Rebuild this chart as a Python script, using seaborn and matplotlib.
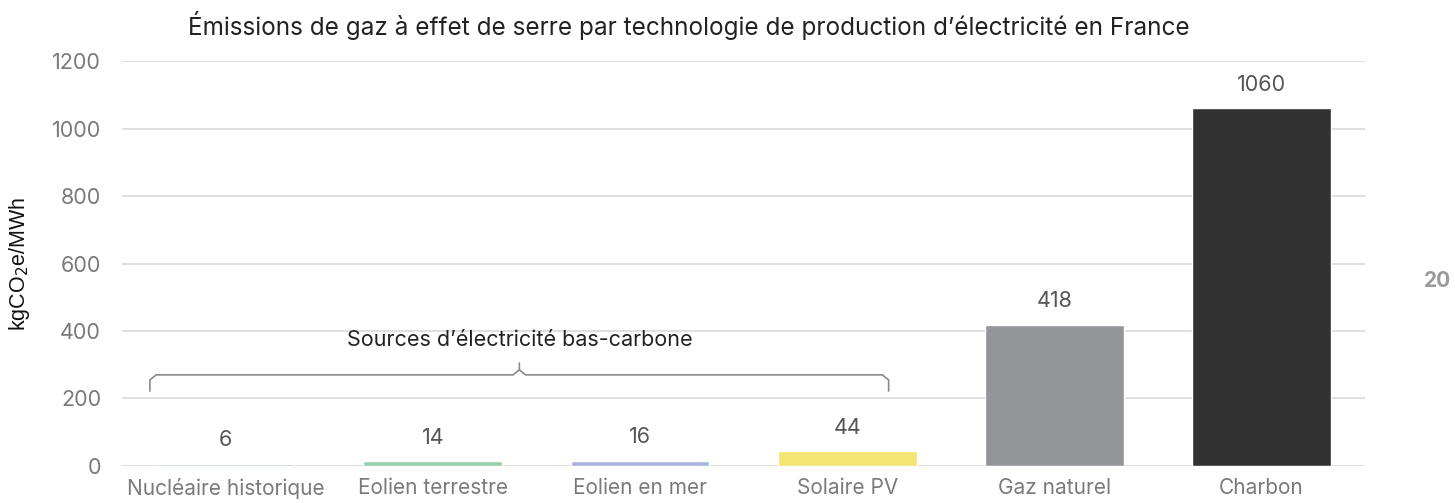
import numpy as np
import pandas as pd
import seaborn as sns
import matplotlib.pyplot as plt

# Data
technologies = ['Nucléaire historique', 'Eolien terrestre', 'Eolien en mer',
                'Solaire PV', 'Gaz naturel', 'Charbon']
emissions = [6, 14, 16, 44, 418, 1060]
bar_colors = ['#b4c8dc', '#98cfa9', '#a9b2dc', '#f4e471', '#939598', '#323232']

df = pd.DataFrame({'tech': technologies, 'val': emissions})

sns.set_style('white')
plt.rcParams['font.family'] = ['Inter', 'DejaVu Sans']

fig = plt.figure(figsize=(14.55, 5.03), dpi=100)
ax = fig.add_axes([0.0838, 0.0736, 0.8545, 0.805])

sns.barplot(data=df, x='tech', y='val', hue='tech', palette=bar_colors,
            legend=False, width=0.67, saturation=1, ax=ax, zorder=3)

ax.set_ylim(0, 1200)
ax.set_xlim(-0.5, 5.5)
ax.set_yticks(range(0, 1201, 200))
ax.yaxis.grid(True, color='#dcdcdc', linewidth=1.3, zorder=0)
ax.set_axisbelow(True)
for s in ax.spines.values():
    s.set_visible(False)
ax.tick_params(axis='y', length=0, labelsize=15.5, colors='#7a7a7a', pad=15)
ax.tick_params(axis='x', length=0, labelsize=15, colors='#7a7a7a', pad=9)
ax.set_xlabel('')
ax.set_ylabel('kgCO$_2$e/MWh', fontsize=15.5, family='Liberation Sans', color='#111111', labelpad=14)

# value labels
for i, v in enumerate(emissions):
    ax.annotate(str(v), (i, v), xytext=(0, 17), textcoords='offset points',
                ha='center', va='center', fontsize=15.5, color='#555555')

# brace over low-carbon sources
x0, x1, xm = -0.365, 3.2, 1.418
yb, yend, ytip = 270, 222, 305
r = 0.03
ax.plot([x0, x0, x0 + r, xm - r, xm, xm], [yend, yb - 15, yb, yb, yb + 15, ytip],
        color='#8a8a8a', lw=1.2, zorder=4)
ax.plot([x1, x1, x1 - r, xm + r, xm], [yend, yb - 15, yb, yb, yb + 15],
        color='#8a8a8a', lw=1.2, zorder=4)
ax.text(xm, 373, 'Sources d’électricité bas-carbone', ha='center', va='center',
        fontsize=15.5, color='#222222')

fig.text(0.4735, 0.95, 'Émissions de gaz à effet de serre par technologie de production d’électricité en France',
         ha='center', va='center', fontsize=17.5, color='#222222')
fig.text(0.988, 0.441, '20', ha='center', va='center', fontsize=15,
         fontweight='bold', color='#999999')

plt.savefig('out.png', dpi=100)
